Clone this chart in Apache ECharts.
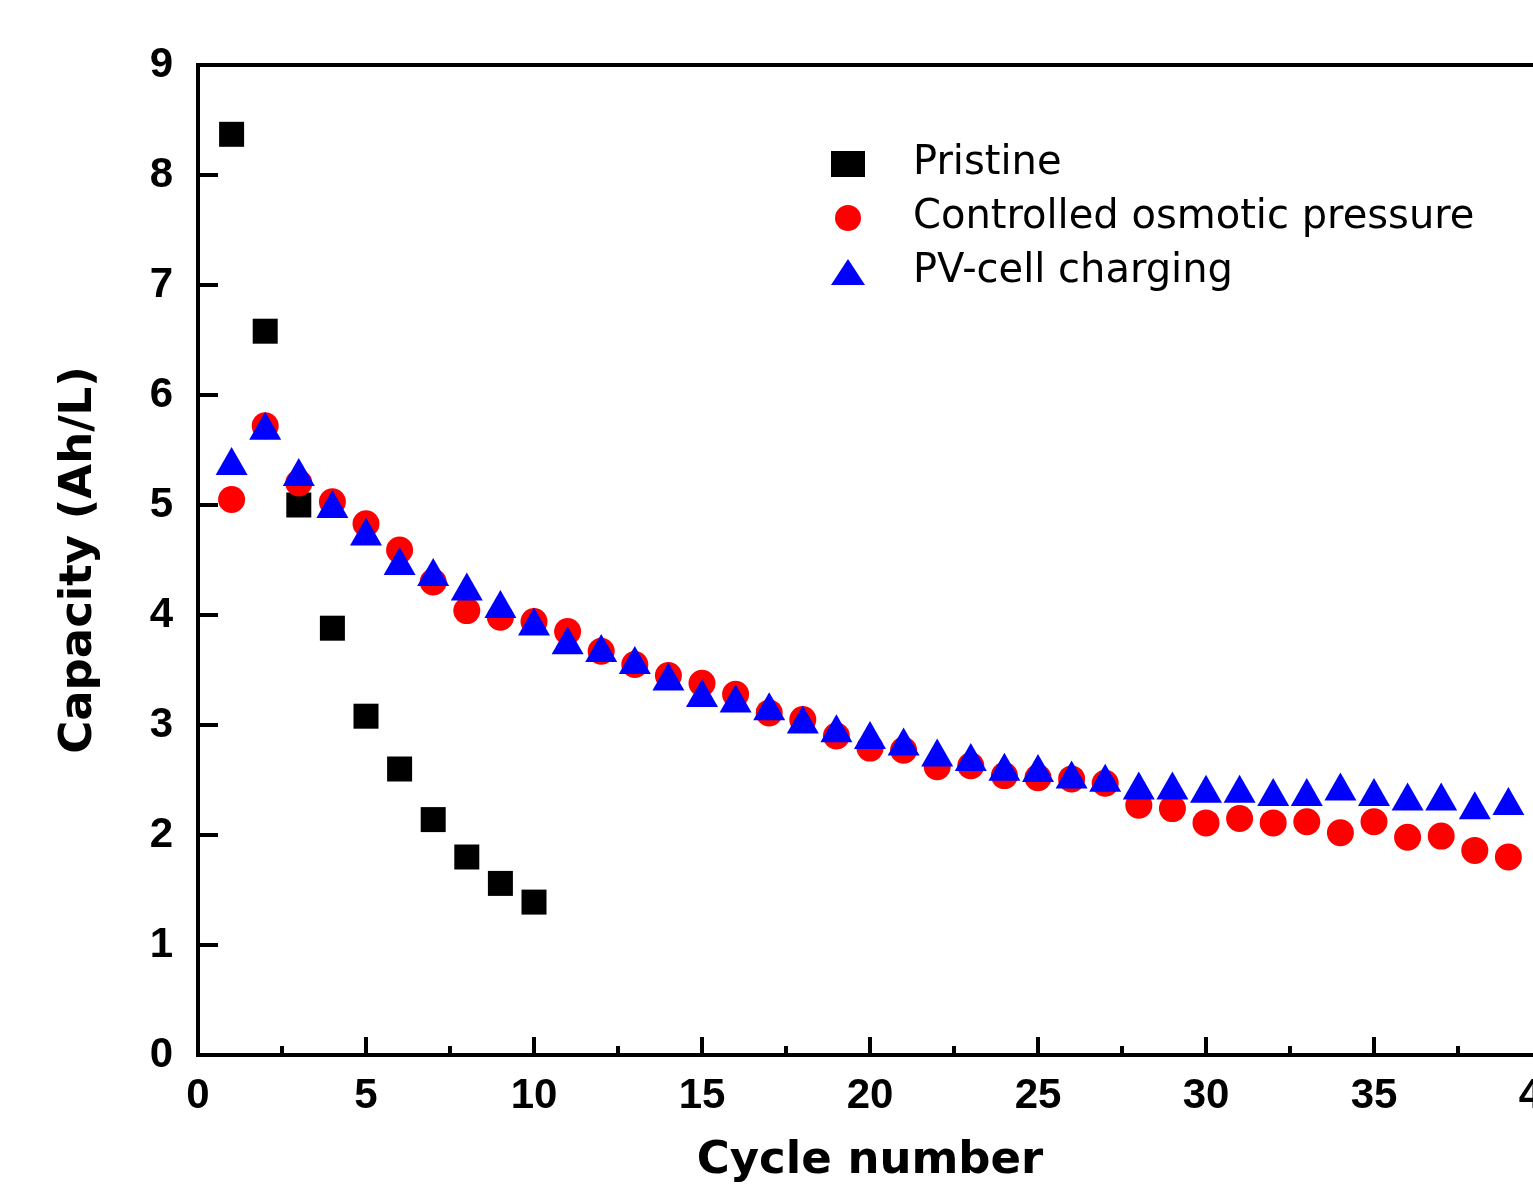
<!DOCTYPE html>
<html>
<head>
<meta charset="utf-8">
<script src="https://cdn.jsdelivr.net/npm/echarts@6/dist/echarts.min.js"></script>
<style>html,body{margin:0;padding:0;background:#fff;}#c{width:1533px;height:1188px;}</style>
</head>
<body>
<div id="c"></div>
<script>
const cycles = [1,2,3,4,5,6,7,8,9,10,11,12,13,14,15,16,17,18,19,20,21,22,23,24,25,26,27,28,29,30,31,32,33,34,35,36,37,38,39];
const pristine = [8.37,6.58,5.00,3.88,3.08,2.60,2.14,1.80,1.56,1.39];
const osmotic = [5.05,5.72,5.20,5.03,4.83,4.59,4.30,4.04,3.98,3.94,3.85,3.67,3.55,3.45,3.38,3.28,3.11,3.05,2.90,2.79,2.77,2.62,2.63,2.54,2.52,2.51,2.47,2.27,2.24,2.11,2.15,2.11,2.12,2.02,2.12,1.98,1.99,1.86,1.80];
const pvcell = [5.40,5.72,5.30,5.01,4.76,4.49,4.39,4.26,4.10,3.94,3.77,3.70,3.59,3.44,3.29,3.24,3.17,3.05,2.97,2.91,2.85,2.75,2.71,2.62,2.61,2.55,2.52,2.45,2.45,2.42,2.42,2.39,2.39,2.44,2.39,2.35,2.35,2.27,2.31];
const seriesNames = ['Pristine','Controlled osmotic pressure','PV-cell charging'];
const xAxisName = 'Cycle number';
const yAxisName = 'Capacity (Ah/L)';

function pairs(vals){ return vals.map((v,i)=>[cycles[i], v]); }

const FONT = '"Liberation Sans", Arial, sans-serif';
const FONT2 = '"DejaVu Sans", sans-serif';
const chart = echarts.init(document.getElementById('c'), null, {renderer:'canvas'});
chart.setOption({
  animation: false,
  backgroundColor: '#fff',
  grid: {left:198, top:65, width:1344, height:990, outerBoundsMode:'none', containLabel:false,
         show:true, borderColor:'#000', borderWidth:4, backgroundColor:'transparent'},
  legend: {
    orient:'vertical', left:826, top:139, itemWidth:34, itemHeight:26, itemGap:14,
    data: seriesNames,
    textStyle:{fontFamily:FONT2, fontSize:40, color:'#000', lineHeight:40, padding:[0,0,0,43]}
  },
  xAxis: {
    type:'value', min:0, max:40, interval:5,
    name:xAxisName, nameLocation:'middle', nameGap:84,
    nameTextStyle:{fontFamily:FONT2, fontSize:45, fontWeight:'bold', color:'#000'},
    axisLine:{show:true, lineStyle:{color:'#000', width:4}},
    axisTick:{show:true, inside:true, length:18, lineStyle:{color:'#000', width:4}},
    minorTick:{show:true, splitNumber:2, length:9, lineStyle:{color:'#000', width:4}},
    splitLine:{show:false},
    axisLabel:{fontFamily:FONT, fontSize:42, fontWeight:'bold', color:'#000', margin:20}
  },
  yAxis: {
    type:'value', min:0, max:9, interval:1,
    name:yAxisName, nameLocation:'middle', nameGap:96, nameRotate:90,
    nameTextStyle:{fontFamily:FONT2, fontSize:45, fontWeight:'bold', color:'#000'},
    axisLine:{show:true, lineStyle:{color:'#000', width:4}},
    axisTick:{show:true, inside:true, length:20, lineStyle:{color:'#000', width:4}},
    splitLine:{show:false},
    axisLabel:{fontFamily:FONT, fontSize:42, fontWeight:'bold', color:'#000', margin:25}
  },
  series: [
    {name:seriesNames[0], type:'scatter', symbol:'rect', symbolSize:25, itemStyle:{color:'#000', opacity:1}, data:pairs(pristine)},
    {name:seriesNames[1], type:'scatter', symbol:'circle', symbolSize:27, itemStyle:{color:'#ff0000', opacity:1}, data:pairs(osmotic)},
    {name:seriesNames[2], type:'scatter', symbol:'triangle', symbolSize:[32,28], itemStyle:{color:'#0000ff', opacity:1}, data:pairs(pvcell)}
  ]
});
</script>
</body>
</html>
